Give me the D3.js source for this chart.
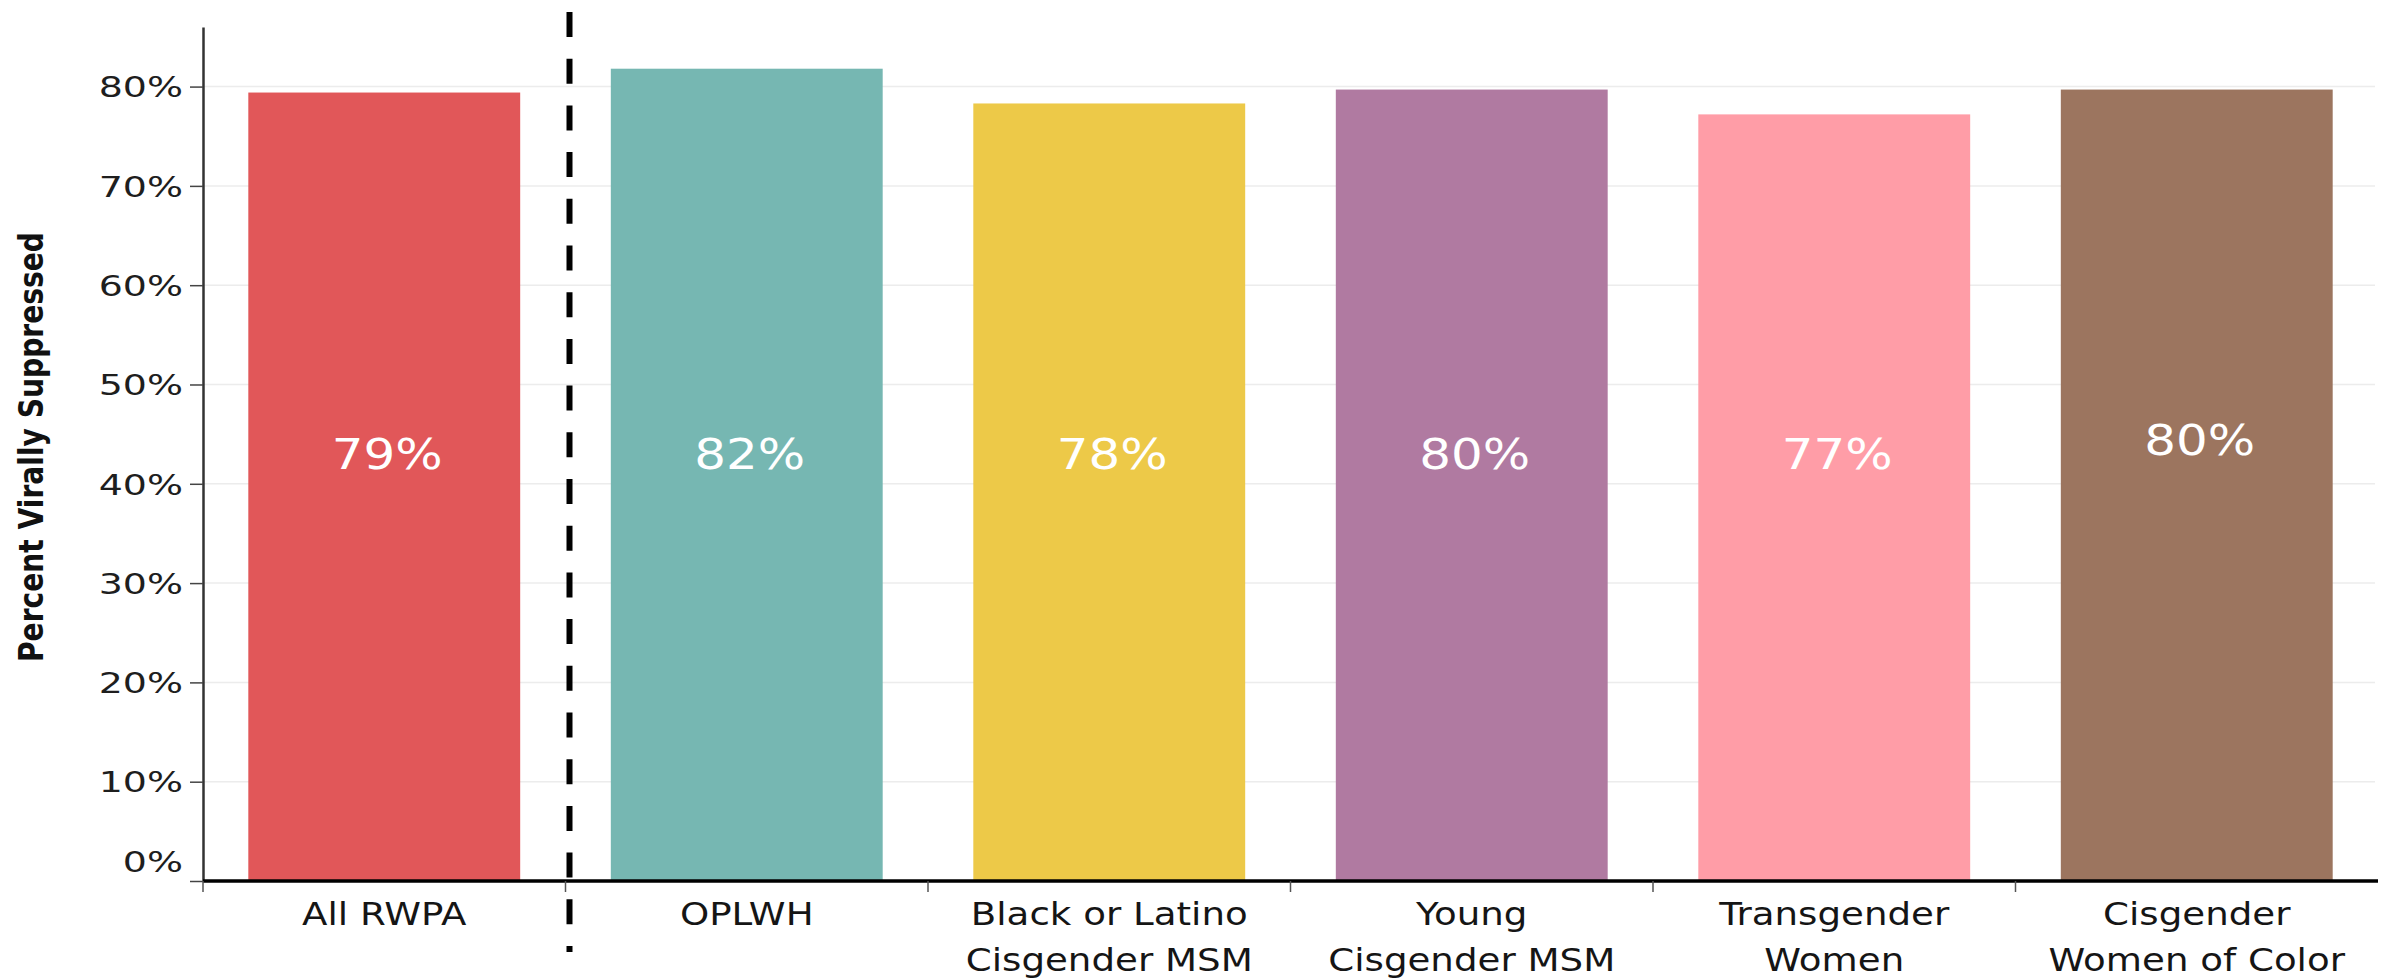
<!DOCTYPE html>
<html>
<head>
<meta charset="utf-8">
<script src="https://cdn.jsdelivr.net/npm/d3@7"></script>
<style>
  html, body { margin: 0; padding: 0; background: #ffffff; }
  svg { display: block; }
</style>
</head>
<body>
<svg id="chart" width="2386" height="978"></svg>
<script>
// Viral suppression by priority population
const categories = [
  "All RWPA",
  "OPLWH",
  "Black or Latino Cisgender MSM",
  "Young Cisgender MSM",
  "Transgender Women",
  "Cisgender Women of Color"
];
const categoryLines = [
  ["All RWPA"],
  ["OPLWH"],
  ["Black or Latino", "Cisgender MSM"],
  ["Young", "Cisgender MSM"],
  ["Transgender", "Women"],
  ["Cisgender", "Women of Color"]
];
const suppressed = [0.794, 0.818, 0.783, 0.797, 0.772, 0.797];
const barColors = ["#E15759", "#76B7B2", "#EDC948", "#B07AA1", "#FF9DA7", "#9C755F"];
const yTicks = [0, 0.1, 0.2, 0.3, 0.4, 0.5, 0.6, 0.7, 0.8];
const yTitle = "Percent Virally Suppressed";

const svg = d3.select("#chart");
const pct = d3.format(".0%");
const labelFont = "'DejaVu Sans', Verdana, sans-serif";

const x = d3.scaleBand()
  .domain(categories)
  .range([203, 2378])
  .paddingInner(0.25)
  .paddingOuter(0.125);

const y = d3.scaleLinear()
  .domain([0, 0.86])
  .range([881, 27]);

// widen glyphs to the broad face used across the chart
function stretch(sel, k) {
  sel.each(function () {
    const w = this.getComputedTextLength();
    d3.select(this).attr("textLength", w * k).attr("lengthAdjust", "spacingAndGlyphs");
  });
}

// horizontal gridlines
svg.append("g")
  .selectAll("line")
  .data(yTicks.filter(d => d > 0))
  .join("line")
  .attr("x1", x.range()[0])
  .attr("x2", 2375)
  .attr("y1", d => y(d))
  .attr("y2", d => y(d))
  .attr("stroke", "#ececec")
  .attr("stroke-width", 1.5);

// bars
svg.append("g")
  .selectAll("rect")
  .data(categories)
  .join("rect")
  .attr("x", d => x(d))
  .attr("width", x.bandwidth())
  .attr("y", (d, i) => y(suppressed[i]))
  .attr("height", (d, i) => y(0) - y(suppressed[i]))
  .attr("fill", (d, i) => barColors[i]);

// value labels inside bars
const valueLabels = svg.append("g")
  .selectAll("text")
  .data(categories)
  .join("text")
  .attr("x", d => x(d) + x.bandwidth() / 2 + 3)
  .attr("y", (d, i) => (i === 5 ? y(0.445) : y(0.43)))
  .attr("dy", "0.36em")
  .attr("text-anchor", "middle")
  .attr("font-family", labelFont)
  .attr("font-size", 43)
  .attr("fill", "#ffffff")
  .text((d, i) => pct(suppressed[i]));
stretch(valueLabels, 1.16);

// y axis
const yAxis = svg.append("g")
  .attr("transform", `translate(${x.range()[0]},0)`)
  .call(d3.axisLeft(y)
    .tickValues(yTicks)
    .tickFormat(pct)
    .tickSize(13)
    .tickSizeOuter(0)
    .tickPadding(7));
yAxis.select(".domain").attr("stroke", "#333").attr("stroke-width", 2.5);
yAxis.selectAll(".tick line").attr("stroke", "#444").attr("stroke-width", 1.5);
const yLabels = yAxis.selectAll(".tick text")
  .attr("font-family", labelFont)
  .attr("font-size", 28.5)
  .attr("fill", "#1e1e1e")
  .attr("dy", d => (d === 0 ? "-0.35em" : "0.36em"));
stretch(yLabels, 1.33);

// x axis baseline and category separators
svg.append("line")
  .attr("x1", x.range()[0])
  .attr("x2", x.range()[1])
  .attr("y1", y(0))
  .attr("y2", y(0))
  .attr("stroke", "#000")
  .attr("stroke-width", 3.5);

svg.append("g")
  .selectAll("line")
  .data(d3.range(categories.length))
  .join("line")
  .attr("x1", i => x.range()[0] + i * x.step())
  .attr("x2", i => x.range()[0] + i * x.step())
  .attr("y1", y(0))
  .attr("y2", y(0) + 11)
  .attr("stroke", "#555")
  .attr("stroke-width", 1.5);

// category labels
const catGroup = svg.append("g");
categories.forEach((c, i) => {
  const lines = catGroup.selectAll(null)
    .data(categoryLines[i])
    .join("text")
    .attr("x", x(c) + x.bandwidth() / 2)
    .attr("y", (d, j) => 925 + j * 46)
    .attr("text-anchor", "middle")
    .attr("font-family", labelFont)
    .attr("font-size", 31.5)
    .attr("fill", "#151515")
    .text(d => d);
  stretch(lines, 1.18);
});

// dashed divider between the overall group and the subpopulations
const dividerX = x.range()[0] + x.step() + 4;
svg.append("line")
  .attr("x1", dividerX)
  .attr("x2", dividerX)
  .attr("y1", 12)
  .attr("y2", 952)
  .attr("stroke", "#000")
  .attr("stroke-width", 6)
  .attr("stroke-dasharray", "25,21.7");

// y axis title
const title = svg.append("text")
  .attr("transform", "translate(43,447) rotate(-90)")
  .attr("text-anchor", "middle")
  .attr("font-family", "'DejaVu Sans', sans-serif")
  .attr("font-stretch", "condensed")
  .attr("font-weight", "bold")
  .attr("font-size", 34)
  .attr("fill", "#111")
  .text(yTitle);
title.attr("textLength", 430).attr("lengthAdjust", "spacingAndGlyphs");
</script>
</body>
</html>
